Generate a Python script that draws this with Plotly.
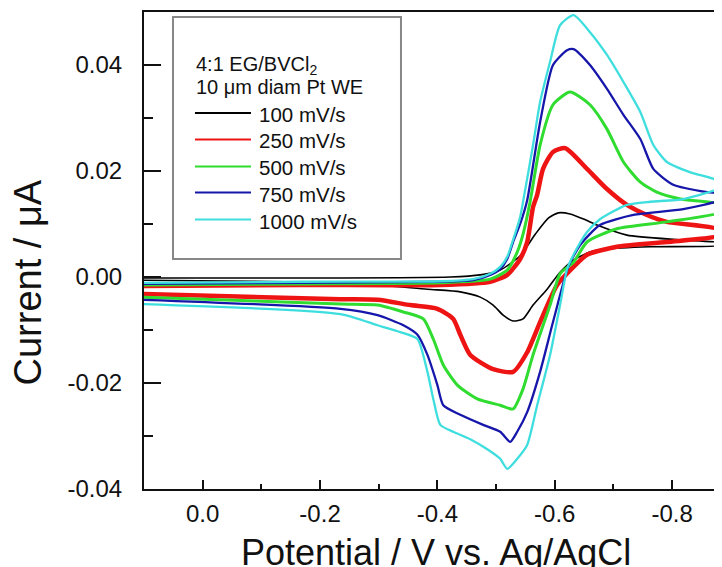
import plotly.graph_objects as go

# ---------------- data ----------------
rates = ["100 mV/s", "250 mV/s", "500 mV/s", "750 mV/s", "1000 mV/s"]
colors = ["#000000", "#ee1414", "#2fdc2f", "#1616aa", "#3fdede"]
widths = [1.6, 4.5, 3.0, 2.3, 2.3]
legend_widths = [2.0, 2.0, 2.0, 2.0, 2.0]
header_lines = ["4:1 EG/BVCl<sub>2</sub>", "10 μm diam Pt WE"]

# 100 mV/s
e100_fwd = [0.10, -0.167, -0.422, -0.473, -0.507, -0.541, -0.567, -0.589, -0.606, -0.626, -0.652, -0.672, -0.723, -0.814, -0.885]
i100_fwd = [-0.0002, -0.0002, 0.0000, 0.0004, 0.0013, 0.0040, 0.0081, 0.0111, 0.0121, 0.0119, 0.0108, 0.0098, 0.0079, 0.0070, 0.0064]
e100_rev = [-0.885, -0.763, -0.689, -0.660, -0.632, -0.609, -0.587, -0.563, -0.546, -0.529, -0.512, -0.495, -0.473, -0.439, -0.383, -0.252, -0.082, 0.10]
i100_rev = [0.0060, 0.0057, 0.0053, 0.0047, 0.0032, 0.0009, -0.0023, -0.0053, -0.0079, -0.0083, -0.0072, -0.0053, -0.0038, -0.0028, -0.0023, -0.0011, -0.0008, -0.0006]

# 250 mV/s
e250_fwd = [0.10, -0.167, -0.405, -0.490, -0.519, -0.541, -0.553, -0.563, -0.570, -0.580, -0.597, -0.618, -0.655, -0.689, -0.723, -0.757, -0.791, -0.885]
i250_fwd = [-0.0017, -0.0015, -0.0015, -0.0009, 0.0004, 0.0034, 0.0066, 0.0132, 0.0155, 0.0204, 0.0236, 0.0243, 0.0204, 0.0166, 0.0136, 0.0117, 0.0104, 0.0089]
e250_rev = [-0.885, -0.791, -0.706, -0.655, -0.632, -0.604, -0.575, -0.553, -0.529, -0.495, -0.456, -0.439, -0.427, -0.400, -0.354, -0.298, -0.235, 0.10]
i250_rev = [0.0079, 0.0066, 0.0057, 0.0042, 0.0019, -0.0015, -0.0085, -0.0142, -0.0179, -0.0174, -0.0147, -0.0109, -0.0079, -0.0060, -0.0053, -0.0043, -0.0042, -0.0032]

# 500 mV/s
e500_fwd = [0.10, -0.167, -0.405, -0.490, -0.519, -0.536, -0.546, -0.558, -0.575, -0.597, -0.626, -0.660, -0.689, -0.717, -0.746, -0.774, -0.814, -0.885]
i500_fwd = [-0.0015, -0.0013, -0.0011, -0.0004, 0.0013, 0.0047, 0.0081, 0.0142, 0.0249, 0.0325, 0.0349, 0.0325, 0.0279, 0.0217, 0.0179, 0.0160, 0.0147, 0.0136]
e500_rev = [-0.885, -0.791, -0.706, -0.655, -0.632, -0.609, -0.592, -0.563, -0.546, -0.529, -0.507, -0.468, -0.434, -0.410, -0.393, -0.376, -0.342, -0.298, -0.235, 0.10]
i500_rev = [0.0123, 0.0104, 0.0091, 0.0066, 0.0028, 0.0006, -0.0053, -0.0147, -0.0211, -0.0249, -0.0242, -0.0230, -0.0204, -0.0166, -0.0117, -0.0079, -0.0066, -0.0053, -0.0051, -0.0038]

# 750 mV/s
e750_fwd = [0.10, -0.167, -0.405, -0.461, -0.490, -0.507, -0.519, -0.529, -0.541, -0.553, -0.575, -0.597, -0.621, -0.632, -0.660, -0.689, -0.717, -0.746, -0.768, -0.802, -0.860, -0.885]
i750_fwd = [-0.0013, -0.0011, -0.0009, -0.0006, 0.0004, 0.0015, 0.0034, 0.0066, 0.0100, 0.0145, 0.0292, 0.0400, 0.0428, 0.0430, 0.0400, 0.0355, 0.0306, 0.0260, 0.0204, 0.0174, 0.0160, 0.0157]
e750_rev = [-0.885, -0.819, -0.734, -0.677, -0.643, -0.623, -0.597, -0.575, -0.553, -0.536, -0.524, -0.507, -0.478, -0.439, -0.410, -0.400, -0.383, -0.366, -0.342, -0.298, -0.235, 0.10]
i750_rev = [0.0147, 0.0128, 0.0117, 0.0098, 0.0060, 0.0019, -0.0085, -0.0179, -0.0255, -0.0292, -0.0311, -0.0292, -0.0279, -0.0260, -0.0242, -0.0204, -0.0147, -0.0109, -0.0091, -0.0072, -0.0060, -0.0043]

# 1000 mV/s
e1000_fwd = [0.10, -0.167, -0.405, -0.461, -0.490, -0.507, -0.519, -0.529, -0.541, -0.546, -0.563, -0.575, -0.592, -0.609, -0.632, -0.660, -0.689, -0.717, -0.746, -0.768, -0.791, -0.830, -0.885]
i1000_fwd = [-0.0011, -0.0009, -0.0008, -0.0004, 0.0006, 0.0019, 0.0038, 0.0070, 0.0113, 0.0142, 0.0249, 0.0330, 0.0406, 0.0475, 0.0494, 0.0462, 0.0419, 0.0368, 0.0311, 0.0249, 0.0217, 0.0198, 0.0179]
e1000_rev = [-0.885, -0.819, -0.763, -0.723, -0.677, -0.655, -0.632, -0.621, -0.609, -0.592, -0.570, -0.553, -0.536, -0.519, -0.507, -0.485, -0.456, -0.427, -0.405, -0.393, -0.383, -0.366, -0.337, -0.298, -0.235, 0.10]
i1000_rev = [0.0170, 0.0147, 0.0142, 0.0136, 0.0109, 0.0085, 0.0042, 0.0015, -0.0053, -0.0147, -0.0242, -0.0317, -0.0343, -0.0362, -0.0343, -0.0325, -0.0306, -0.0292, -0.0279, -0.0230, -0.0179, -0.0117, -0.0104, -0.0091, -0.0070, -0.0051]

x_ticks = [0.0, -0.2, -0.4, -0.6, -0.8]
x_tick_labels = ["0.0", "-0.2", "-0.4", "-0.6", "-0.8"]
y_ticks = [-0.04, -0.02, 0.0, 0.02, 0.04]
y_tick_labels = ["-0.04", "-0.02", "0.00", "0.02", "0.04"]

series = [
    (e100_fwd + e100_rev, i100_fwd + i100_rev),
    (e250_fwd + e250_rev, i250_fwd + i250_rev),
    (e500_fwd + e500_rev, i500_fwd + i500_rev),
    (e750_fwd + e750_rev, i750_fwd + i750_rev),
    (e1000_fwd + e1000_rev, i1000_fwd + i1000_rev),
]

FONT = "Liberation Sans, Arial, sans-serif"
INK = "#111111"

fig = go.Figure()
for (ex, iy), name, col, w in zip(series, rates, colors, widths):
    fig.add_trace(go.Scatter(
        x=ex, y=iy, mode="lines", name=name, showlegend=False,
        line=dict(color=col, width=w, shape="spline", smoothing=0.6),
    ))

# ---- legend box (drawn inside the plot, paper coordinates) ----
shapes = [dict(type="rect", xref="paper", yref="paper",
               x0=0.0502, x1=0.4446, y0=0.4822, y1=0.9895,
               line=dict(color="#888888", width=2), fillcolor="rgba(0,0,0,0)")]
annotations = []
hdr_x = 0.0882
for txt, yy in zip(header_lines, [0.888, 0.843]):
    annotations.append(dict(text=txt, xref="paper", yref="paper", x=hdr_x - 0.002, y=yy,
                            xanchor="left", yanchor="middle", showarrow=False,
                            font=dict(size=20, family=FONT, color=INK)))
entry_y = [0.7851, 0.7296, 0.6730, 0.6184, 0.5618]
for name, col, lw, yy in zip(rates, colors, legend_widths, entry_y):
    shapes.append(dict(type="line", xref="paper", yref="paper",
                       x0=hdr_x, x1=0.1851, y0=yy + 0.003, y1=yy + 0.003,
                       line=dict(color=col, width=lw)))
    annotations.append(dict(text=name, xref="paper", yref="paper", x=0.1955, y=yy,
                            xanchor="left", yanchor="middle", showarrow=False,
                            font=dict(size=20.5, family=FONT, color=INK)))

# ---- axis titles ----
annotations.append(dict(text="Potential / V vs. Ag/AgCl", xref="paper", yref="paper",
                        x=0.506, y=-0.133, xanchor="center", yanchor="middle", showarrow=False,
                        font=dict(size=36, family=FONT, color=INK)))
annotations.append(dict(text="Current / μA", xref="paper", yref="paper",
                        x=-0.2007, y=0.433, xanchor="center", yanchor="middle", showarrow=False,
                        textangle=-90, font=dict(size=38, family=FONT, color=INK)))

# The page body has an 8 px margin, so the figure is 8 px smaller than the window.
fig.update_layout(
    width=714, height=559,
    margin=dict(l=136, r=0, t=4, b=78),
    paper_bgcolor="white", plot_bgcolor="white",
    font=dict(family=FONT, color=INK),
    showlegend=False,
    xaxis=dict(
        range=[0.1, -0.885], showgrid=False, zeroline=False,
        showline=True, linecolor=INK, linewidth=2, mirror=True,
        ticks="inside", ticklen=9, tickwidth=2, tickcolor=INK,
        tickvals=x_ticks, ticktext=x_tick_labels,
        tickfont=dict(size=24, family=FONT, color=INK),
        ticklabelstandoff=2,
        minor=dict(dtick=0.1, tick0=0.1, ticks="inside", ticklen=5, tickwidth=2, tickcolor=INK),
    ),
    yaxis=dict(
        range=[-0.04, 0.05], showgrid=False, zeroline=False,
        showline=True, linecolor=INK, linewidth=2, mirror=False,
        ticks="inside", ticklen=17, tickwidth=2, tickcolor=INK,
        tickvals=y_ticks, ticktext=y_tick_labels,
        tickfont=dict(size=24, family=FONT, color=INK),
        ticklabelstandoff=15,
        minor=dict(dtick=0.02, tick0=-0.03, ticks="inside", ticklen=9, tickwidth=2, tickcolor=INK),
    ),
    shapes=shapes,
    annotations=annotations,
)

fig.write_html("out.html")
